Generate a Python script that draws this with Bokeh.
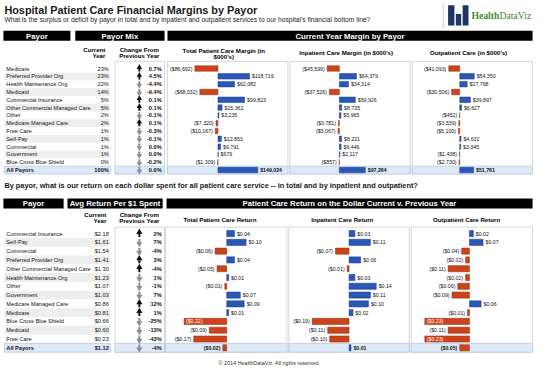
from bokeh.plotting import figure
from bokeh.models import Range1d, ColumnDataSource
from bokeh.core.properties import value
from bokeh.embed import file_html
from bokeh.resources import INLINE

# ---------------- data: top table (margins, $000's) ----------------
top_payors = ["Medicare", "Preferred Provider Org", "Health Maintenance Org", "Medicaid",
              "Commercial Insurance", "Other Commercial Managed Care", "Other",
              "Medicare Managed Care", "Free Care", "Self-Pay", "Commercial", "Government",
              "Blue Cross Blue Shield", "All Payors"]
top_mix = [23, 23, 22, 14, 5, 5, 2, 2, 1, 1, 1, 1, 0, 100]
top_mix_change = [0.7, 4.5, -4.4, -9.4, 0.1, 0.1, -0.1, 0.1, -0.3, -0.1, 0.0, 0.0, -0.2, 0.0]
top_arrow_up = [True, True, False, False, True, True, False, True, False, False, False, False, False, False]
top_total = [-86692, 118719, 62082, -68032, 99823, 15362, 3235, -7320, -10167, 12853, 9791, 679, -1309, 149024]
top_inpatient = [-45599, 64379, 34314, -37526, 59926, 8735, 5965, -3781, -5067, 8221, 6446, 2117, -857, 97264]
top_outpatient = [-41093, 54350, 27768, -30506, 39897, 6627, -452, -3539, -5100, 4632, 3345, -1438, -2730, 51761]

# ---------------- data: bottom table (return per $1) ----------------
bot_payors = ["Commercial Insurance", "Self-Pay", "Commercial", "Preferred Provider Org",
              "Other Commercial Managed Care", "Health Maintenance Org", "Other", "Government",
              "Medicare Managed Care", "Medicare", "Blue Cross Blue Shield", "Medicaid", "Free Care",
              "All Payors"]
bot_return = [2.18, 1.61, 1.54, 1.41, 1.30, 1.23, 1.07, 1.03, 0.86, 0.81, 0.66, 0.60, 0.23, 1.12]
bot_change = [2, 7, -4, 3, -4, 1, -1, 7, 12, 1, -25, -13, -43, -4]
bot_arrow_up = [True, False, False, True, True, False, False, False, True, True, False, False, False, False]
bot_total = [0.04, 0.10, -0.06, 0.04, -0.05, 0.01, -0.01, 0.07, 0.09, 0.01, -0.22, -0.09, -0.17, -0.02]
bot_inpatient = [0.03, 0.11, -0.07, 0.06, -0.01, 0.03, 0.14, 0.11, 0.10, 0.02, -0.19, -0.11, -0.10, 0.01]
bot_outpatient = [0.02, 0.07, -0.04, -0.02, -0.11, -0.02, -0.06, -0.09, 0.06, -0.01, -0.23, -0.11, -0.23, -0.05]

# ---------------- layout (reference pixel space 550 x 384) ----------------
WR, HR = 550.0, 384.0
PW, PH = 534, 368
F = PW / WR
FONT = value("Liberation Sans")
BLUE, BLUE_L = "#2b57b6", "#163b8a"
RED, RED_L = "#cc431b", "#992d0e"
STRIPE = "#eeeeee"
ALLBG, ALLLN = "#dde9f6", "#b3cbe6"
BOX = "#cccccc"

def fs(s):
    return f"{s * F:.2f}px"

TOP_Y0, TOP_DY = 71.0, 8.15
BOT_Y0, BOT_DY = 243.2, 9.17
K_TOP = 0.000275   # ref px per $000
K_BOT = 200.0      # ref px per $

def xr(zero, k):
    return Range1d(start=-zero / k, end=(WR - zero) / k)

top_panels = [("t_tot", 224.0, 172.0, 296.0, top_total),
              ("t_inp", 349.0, 298.0, 422.0, top_inpatient),
              ("t_out", 473.0, 424.0, 548.0, top_outpatient)]
bot_panels = [("b_tot", 233.0, 170.0, 295.0, bot_total),
              ("b_inp", 359.0, 297.0, 421.0, bot_inpatient),
              ("b_out", 483.0, 423.0, 548.0, bot_outpatient)]

p = figure(width=PW, height=PH, x_range=Range1d(0, WR), y_range=Range1d(HR, 0),
           output_backend="svg", toolbar_location=None, min_border=0,
           x_axis_location=None, y_axis_location=None)
p.grid.visible = False
p.outline_line_color = None
p.background_fill_color = "white"
p.border_fill_color = "white"

xranges = {}
for name, z, l, r, v in top_panels:
    xranges[name] = xr(z, K_TOP)
for name, z, l, r, v in bot_panels:
    xranges[name] = xr(z, K_BOT)
p.extra_x_ranges = xranges
p.extra_y_ranges = {
    "top": Range1d(start=(HR - TOP_Y0) / TOP_DY, end=-TOP_Y0 / TOP_DY),
    "bot": Range1d(start=(HR - BOT_Y0) / BOT_DY, end=-BOT_Y0 / BOT_DY),
}


def txt(x, y, s, size, bold=False, align="left", color="#000000", font=FONT, yname="default"):
    p.text(x=[x], y=[y], text=[s], text_font=font, text_font_size=fs(size),
           text_font_style="bold" if bold else "normal", text_align=align,
           text_baseline="middle", text_color=color, y_range_name=yname)


def header_bar(l, r, t, b, s):
    p.quad(left=[l], right=[r], top=[t], bottom=[b], fill_color="#000000", line_color=None)
    txt((l + r) / 2, (t + b) / 2 + 0.3, s, 8.0, bold=True, align="center", color="#ffffff")


CW = {c: 0.556 for c in "0123456789$"}
CW.update({"(": 0.333, ")": 0.333, ",": 0.278, ".": 0.278})

def text_w(s, size):
    return sum(CW.get(c, 0.556) for c in s) * size


def money_k(v):
    s = f"${abs(v):,.0f}"
    return f"({s})" if v < 0 else s


def money_d(v):
    s = f"${abs(v):.2f}"
    return f"({s})" if v < 0 else s


def table(yname, payors, cur_text, chg_text, arrow_up, panels, k, fmt, box_top, lab_size, arrow_sz):
    n = len(payors)
    idx = list(range(n))
    last = n - 1
    # panel boxes
    for name, z, l, r, vals in panels:
        p.quad(left=[l], right=[r], top=[box_top], bottom=[last + 0.5], fill_color="white",
               line_color=BOX, line_width=0.8, y_range_name=yname)
    p.quad(left=[118], right=[169], top=[box_top], bottom=[last + 0.5], fill_color="white",
           line_color=BOX, line_width=0.8, y_range_name=yname)
    # stripes
    si = [i for i in idx[:-1] if i % 2 == 1]
    p.quad(left=[4] * len(si), right=[113] * len(si), top=[i - 0.5 for i in si],
           bottom=[i + 0.5 for i in si], fill_color=STRIPE, line_color=None, y_range_name=yname)
    # All Payors background row
    lefts = [4, 118] + [pp[2] for pp in panels]
    rights = [113, 169] + [pp[3] for pp in panels]
    p.quad(left=lefts, right=rights, top=[last - 0.5] * len(lefts), bottom=[last + 0.5] * len(lefts),
           fill_color=ALLBG, line_color=ALLLN, line_width=0.8, y_range_name=yname)
    # row labels + current year + change
    styles = ["normal"] * last + ["bold"]
    src = ColumnDataSource(dict(y=idx, name=payors, cur=cur_text, chg=chg_text, st=styles))
    p.text(x=6, y="y", text="name", source=src, text_font=FONT, text_font_size=fs(5.8),
           text_font_style="st", text_baseline="middle", text_color="#111111", y_range_name=yname)
    p.text(x=111.5, y="y", text="cur", source=src, text_font=FONT, text_font_size=fs(5.8),
           text_font_style="st", text_align="right", text_baseline="middle", text_color="#111111",
           y_range_name=yname)
    p.text(x=166, y="y", text="chg", source=src, text_font=FONT, text_font_size=fs(5.8),
           text_font_style="bold", text_align="right", text_baseline="middle", text_color="#111111",
           y_range_name=yname)
    # arrows
    up = [i for i in idx if arrow_up[i]]
    dn = [i for i in idx if not arrow_up[i]]
    p.scatter(x=[143] * len(up), y=[i - 0.16 for i in up], marker="triangle", size=arrow_sz,
              fill_color="#111111", line_color=None, y_range_name=yname)
    p.rect(x=[143] * len(up), y=[i + 0.18 for i in up], width=2.0, width_units="screen",
           height=0.42, fill_color="#111111", line_color=None, y_range_name=yname)
    p.scatter(x=[143] * len(dn), y=[i + 0.16 for i in dn], marker="inverted_triangle", size=arrow_sz,
              fill_color="#8e8e8e", line_color=None, y_range_name=yname)
    p.rect(x=[143] * len(dn), y=[i - 0.18 for i in dn], width=2.0, width_units="screen",
           height=0.42, fill_color="#8e8e8e", line_color=None, y_range_name=yname)
    # bars + labels
    LS = 5.4
    for name, z, l, r, vals in panels:
        fills = [BLUE if v >= 0 else RED for v in vals]
        lines = [BLUE_L if v >= 0 else RED_L for v in vals]
        p.hbar(y=idx, left=0, right=vals, height=0.7, fill_color=fills, line_color=lines,
               line_width=0.5, x_range_name=name, y_range_name=yname)
        texts, aligns, offs, cols = [], [], [], []
        for v in vals:
            t = fmt(v)
            texts.append(t)
            end = z + v * k
            if v >= 0:
                aligns.append("left"); offs.append(2.5 * F); cols.append("#111111")
            elif end - 2 - text_w(t, LS) >= l + 2:
                aligns.append("right"); offs.append(-2.5 * F); cols.append("#111111")
            else:
                aligns.append("left"); offs.append(2.0 * F); cols.append("#ffffff")
        lsrc = ColumnDataSource(dict(x=vals, y=idx, t=texts, a=aligns, o=offs, c=cols, st=styles))
        p.text(x="x", y="y", text="t", source=lsrc, text_align="a", x_offset="o", text_color="c",
               text_font_style="st", text_font=FONT, text_font_size=fs(LS), text_baseline="middle",
               x_range_name=name, y_range_name=yname)


# ---------------- title & logo ----------------
txt(4, 9.5, "Hospital Patient Care Financial Margins by Payor", 11.2, bold=True, color="#1a1a1a")
txt(4, 20, "What is the surplus or deficit by payor in total and by inpatient and outpatient services "
           "to our hospital's financial bottom line?", 6.9, color="#1a1a1a")
p.segment(x0=[456], y0=[4], x1=[456], y1=[28], line_color="#9a9a9a", line_width=1, line_dash="1 1")
p.quad(left=[461, 469, 476], right=[467.5, 474.5, 482], top=[5, 14, 5], bottom=[26, 26, 26],
       fill_color="#1f3563", line_color=None)
txt(485, 16, "Health", 10, bold=True, color="#3b8a35", font=value("Liberation Serif"))
txt(514, 16, "DataViz", 10, color="#3b8a35", font=value("Liberation Serif"))

# ---------------- top section ----------------
header_bar(3, 72, 31.5, 42, "Payor")
header_bar(77, 169, 31.5, 42, "Payor Mix")
header_bar(172, 548, 31.5, 42, "Current Year Margin by Payor")
txt(108, 51.5, "Current", 6.3, bold=True, align="right")
txt(108, 57.5, "Year", 6.3, bold=True, align="right")
txt(143, 51.5, "Change From", 6.3, bold=True, align="center")
txt(143, 57.5, "Previous Year", 6.3, bold=True, align="center")
txt(230, 52, "Total Patient Care Margin (in", 6.3, bold=True, align="center")
txt(230, 58, "$000's)", 6.3, bold=True, align="center")
txt(356, 54.5, "Inpatient Care Margin (in $000's)", 6.3, bold=True, align="center")
txt(482, 54.5, "Outpatient Care (in $000's)", 6.3, bold=True, align="center")

table("top", top_payors, [f"{v}%" for v in top_mix], [f"{v:.1f}%" for v in top_mix_change],
      top_arrow_up, top_panels, K_TOP, money_k, -0.92, 5.4, 5.5)

# ---------------- bottom section ----------------
txt(4, 193.5, "By payor, what is our return on each dollar spent for all patient care service -- "
              "in total and by inpatient and outpatient?", 7.6, bold=True, color="#1a1a1a")
header_bar(3, 65, 206.5, 217, "Payor")
header_bar(69, 167, 206.5, 217, "Avg Return Per $1 Spent")
header_bar(171, 548, 206.5, 217, "Patient Care Return on the Dollar Current v. Previous Year")
txt(109, 223, "Current", 6.3, bold=True, align="right")
txt(109, 230, "Year", 6.3, bold=True, align="right")
txt(143, 223, "Change From", 6.3, bold=True, align="center")
txt(143, 230, "Previous Year", 6.3, bold=True, align="center")
txt(226, 229, "Total Patient Care Return", 6.3, bold=True, align="center")
txt(352, 229, "Inpatient Care Return", 6.3, bold=True, align="center")
txt(480, 229, "Outpatient Care Return", 6.3, bold=True, align="center")

table("bot", bot_payors, [f"${v:.2f}" for v in bot_return], [f"{v}%" for v in bot_change],
      bot_arrow_up, bot_panels, K_BOT, money_d, -0.73, 5.4, 6.2)

txt(277, 378, "\u00a9 2014 HealthDataViz. All rights reserved.", 5.6, align="center", color="#333333")

open("out.html", "w").write(file_html(p, INLINE))
